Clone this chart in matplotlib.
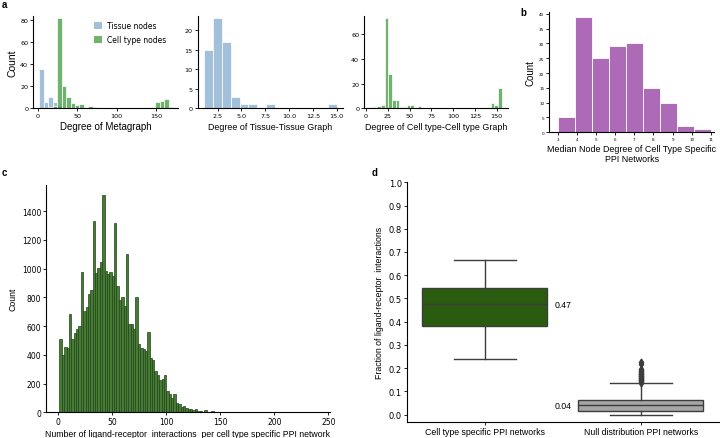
import numpy as np
import matplotlib.pyplot as plt
from matplotlib.patches import Patch

plt.rcParams['font.family'] = ['DejaVu Sans']
LAB = 'Liberation Sans'

# ---- panel a: degree of metagraph (30 bins from 2, width 5.667)
meta_start, meta_width = 2.0, 5.667
meta_tissue = [36, 6, 10, 6, 2] + [0] * 25
meta_cell = [0, 0, 1, 2, 82, 20, 10, 5, 3, 4, 0, 2, 1, 0, 0, 0, 0, 0, 0, 0,
             0, 0, 0, 0, 0, 1, 6, 7, 8, 1]

# tissue-tissue graph (15 bins from 1.1, width 0.927)
tt_start, tt_width = 1.1, 0.927
tt_counts = [15, 23, 17, 3, 1, 1, 0, 1, 0, 0, 0, 0, 0, 0, 1]

# cell type-cell type graph (36 bins from 4.6, width 4.2)
cc_start, cc_width = 4.6, 4.2
cc_counts = [1, 1, 2, 3, 73, 28, 7, 7, 1, 1, 3, 3, 0, 2, 0, 0, 0, 0, 0, 0,
             0, 0, 0, 0, 0, 0, 0, 0, 0, 0, 0, 0, 0, 4, 3, 16]

# ---- panel b: median node degree (9 bins from 3 to 11)
med_start, med_width = 3.0, 8 / 9
med_counts = [5, 39, 25, 29, 30, 15, 10, 2, 1]

# ---- panel c: ligand-receptor interactions per network (bins of 2.2 from 1)
lr_start, lr_width = 1.0, 2.2
lr_counts = [510, 400, 455, 450, 685, 510, 550, 580, 600, 975,
             705, 735, 825, 850, 1335, 970, 1005, 1050, 1510, 985,
             965, 975, 950, 1320, 880, 780, 800, 740, 1100, 615,
             615, 580, 800, 475, 445, 440, 430, 560, 380, 365,
             290, 260, 225, 230, 260, 145, 130, 100, 125, 65,
             55, 40, 45, 30, 25, 22, 15, 25, 10, 8,
             5, 18, 5, 3, 8, 4, 3, 3, 2, 2,
             1, 2, 1, 1, 1, 0, 1, 0, 1, 0]

# ---- panel d: fraction of ligand-receptor interactions
box_names = ['Cell type specific PPI networks', 'Null distribution PPI networks']
box_q1 = [0.38, 0.015]
box_med = [0.475, 0.04]
box_q3 = [0.545, 0.065]
box_lo = [0.24, 0.0]
box_hi = [0.665, 0.135]
null_fliers = [0.138, 0.141, 0.144, 0.147, 0.15, 0.153, 0.156, 0.159, 0.162,
               0.165, 0.168, 0.171, 0.174, 0.177, 0.18, 0.184, 0.188, 0.192,
               0.196, 0.22, 0.228]
box_text = ['0.47', '0.04']

blue = (70 / 255, 130 / 255, 180 / 255, 0.5)
green = (34 / 255, 139 / 255, 34 / 255, 0.65)

W, H = 720, 439
fig = plt.figure(figsize=(7.2, 4.39), dpi=100)


def axes_px(l, t, r, b):
    return fig.add_axes([l / W, 1 - b / H, (r - l) / W, (b - t) / H])


def edges(start, width, n):
    return start + width * np.arange(n)


def style(ax, tick_size):
    for s in ['top', 'right']:
        ax.spines[s].set_visible(False)
    for s in ['left', 'bottom']:
        ax.spines[s].set_linewidth(0.8)
    ax.tick_params(labelsize=tick_size, length=2, width=0.6, pad=1.5)


# a1
ax = axes_px(33, 17, 178, 109.3)
x = edges(meta_start, meta_width, len(meta_tissue))
ax.bar(x, meta_tissue, width=meta_width, align='edge', color=blue,
       edgecolor='white', linewidth=0.5)
ax.bar(x, meta_cell, width=meta_width, align='edge', color=green,
       edgecolor='white', linewidth=0.5)
ax.set_xlim(-6, 178)
ax.set_ylim(0, 83.6)
ax.set_xticks([0, 50, 100, 150])
ax.set_yticks([0, 20, 40, 60, 80])
style(ax, 4.6)
ax.set_xlabel('Degree of Metagraph', fontsize=7, family=LAB, labelpad=2)
ax.set_ylabel('Count', fontsize=7.5, family=LAB, labelpad=2)
ax.legend(handles=[Patch(facecolor=blue, label='Tissue nodes'),
                   Patch(facecolor=green, label='Cell type nodes')],
          loc='upper left', bbox_to_anchor=(0.37, 1.02), frameon=False,
          fontsize=5.5, handlelength=1.1, handleheight=1.1,
          labelspacing=0.7, handletextpad=0.7)

# a2
ax = axes_px(197.7, 17.3, 343, 109.3)
x = edges(tt_start, tt_width, len(tt_counts))
ax.bar(x, tt_counts, width=tt_width, align='edge', color=blue,
       edgecolor='white', linewidth=0.5)
ax.set_xlim(0.4, 15.66)
ax.set_ylim(0, 23.5)
ax.set_xticks([2.5, 5.0, 7.5, 10.0, 12.5, 15.0])
ax.set_yticks([0, 5, 10, 15, 20])
style(ax, 4.6)
ax.set_xlabel('Degree of Tissue-Tissue Graph', fontsize=6.4, family=LAB, labelpad=2.5)

# a3
ax = axes_px(364, 17.3, 508, 109.3)
x = edges(cc_start, cc_width, len(cc_counts))
ax.bar(x, cc_counts, width=cc_width, align='edge', color=green,
       edgecolor='white', linewidth=0.5)
ax.set_xlim(-2.3, 163)
ax.set_ylim(0, 74.3)
ax.set_xticks([0, 25, 50, 75, 100, 125, 150])
ax.set_yticks([0, 20, 40, 60])
style(ax, 4.6)
ax.set_xlabel('Degree of Cell type-Cell type Graph', fontsize=6.4, family=LAB, labelpad=2.5)

# b
ax = axes_px(549.3, 12.7, 714, 133.3)
x = edges(med_start, med_width, len(med_counts))
ax.bar(x, med_counts, width=med_width, align='edge', color='#ad6ab7',
       edgecolor='white', linewidth=0.6)
ax.set_xlim(2.56, 11.16)
ax.set_ylim(0, 40.7)
ax.set_xticks(range(3, 12))
ax.set_yticks(range(0, 41, 5))
style(ax, 3)
ax.set_xlabel('Median Node Degree of Cell Type Specific\nPPI Networks',
              fontsize=6.4, family=LAB, labelpad=2, linespacing=1.1)
ax.set_ylabel('Count', fontsize=7, family=LAB, labelpad=3)

# c
ax = axes_px(46, 186, 330, 413.3)
x = edges(lr_start, lr_width, len(lr_counts))
ax.bar(x, lr_counts, width=lr_width, align='edge', color='#467a35',
       edgecolor='#1f4516', linewidth=0.5)
ax.set_xlim(-11.4, 251.5)
ax.set_ylim(0, 1583)
ax.set_xticks([0, 50, 100, 150, 200, 250])
ax.set_yticks(range(0, 1401, 200))
style(ax, 5.5)
ax.set_xlabel('Number of ligand-receptor  interactions  per cell type specific PPI network',
              fontsize=6.3, family=LAB, labelpad=2)
ax.set_ylabel('Count', fontsize=6.3, family=LAB, labelpad=3)

# d
ax = axes_px(406.7, 183.3, 719, 423.3)
stats = []
for i in range(2):
    stats.append(dict(med=box_med[i], q1=box_q1[i], q3=box_q3[i],
                      whislo=box_lo[i], whishi=box_hi[i],
                      fliers=null_fliers if i == 1 else []))
bp = ax.bxp(stats, positions=[0, 1], widths=0.8, patch_artist=True,
            boxprops=dict(linewidth=1.0, edgecolor='#3d3d3d'),
            medianprops=dict(color='#3d3d3d', linewidth=1.0),
            whiskerprops=dict(color='#3d3d3d', linewidth=1.0),
            capprops=dict(color='#3d3d3d', linewidth=1.0),
            capwidths=0.4,
            flierprops=dict(marker='d', markersize=3.5, markerfacecolor='#3d3d3d',
                            markeredgecolor='#3d3d3d'))
for patch, c in zip(bp['boxes'], ['#2a5c10', '#a6a6a6']):
    patch.set_facecolor(c)
for i in range(2):
    ax.text(0.45, box_med[i], box_text[i], fontsize=6.3, family=LAB,
            va='center', ha='left')
ax.set_xlim(-0.5, 1.5)
ax.set_ylim(-0.033, 1.0)
ax.set_yticks(np.arange(0, 1.01, 0.1))
ax.set_xticks([0, 1])
ax.set_xticklabels(box_names, fontsize=6.3, family=LAB)
style(ax, 6)
ax.tick_params(axis='x', labelsize=6.3)
ax.set_ylabel('Fraction of ligand-receptor  interactions', fontsize=6.3,
              family=LAB, labelpad=3)

# panel letters
for lab, (px, py) in zip('abcd', [(2, 5), (520, 13), (2, 173), (372, 173)]):
    fig.text(px / W, 1 - py / H, lab, fontsize=7, fontweight='bold',
             family=LAB, va='center', ha='left')

fig.savefig('out.png', dpi=100)
